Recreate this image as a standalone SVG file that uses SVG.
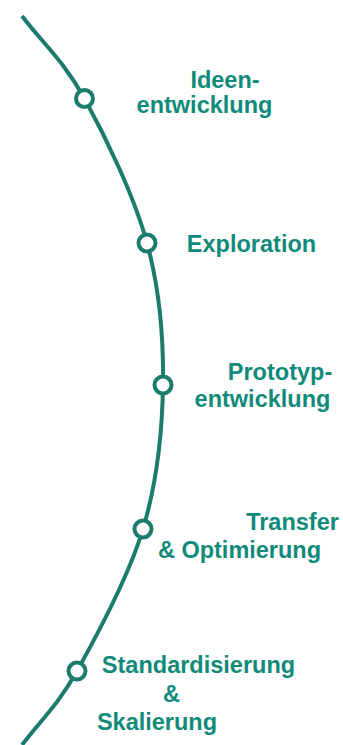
<svg xmlns="http://www.w3.org/2000/svg" width="343" height="745" viewBox="0 0 343 745">
  <style>
    .path { fill: none; stroke: #1b7b6d; stroke-width: 4; stroke-linecap: butt; }
    .stage { fill: #ffffff; stroke: #1b7b6d; stroke-width: 4; }
    .label { font-family: "Liberation Sans", Arial, sans-serif; font-weight: bold; font-size: 23.5px; fill: #108a79; text-anchor: middle; }
  </style>
  <rect width="343" height="745" fill="#ffffff"/>

  <!-- timeline arc -->
  <g id="connectors">
    <path class="path" d="M22,16 C42.8,43.5 63.7,60.7 84.5,98.5 C105.3,136.3 133.9,195.3 147,243 C160.1,290.8 163.7,337.3 163,385 C162.3,432.7 157.3,481.3 143,529 C128.7,576.7 97.2,635 77,671 C56.8,707 40.3,720.3 22,745"/>
  </g>

  <g id="stage-ideen">
    <circle class="stage" cx="84.5" cy="98.5" r="8.5"/>
    <text class="label" x="225" y="88">Ideen-</text>
    <text class="label" x="204.5" y="113">entwicklung</text>
  </g>

  <g id="stage-exploration">
    <circle class="stage" cx="147" cy="243" r="8.5"/>
    <text class="label" x="251.5" y="252">Exploration</text>
  </g>

  <g id="stage-prototyp">
    <circle class="stage" cx="163" cy="385" r="8.5"/>
    <text class="label" x="280" y="380">Prototyp-</text>
    <text class="label" x="262.5" y="407">entwicklung</text>
  </g>

  <g id="stage-transfer">
    <circle class="stage" cx="143" cy="529" r="8.5"/>
    <text class="label" x="292.5" y="530">Transfer</text>
    <text class="label" x="239.5" y="558">&amp; Optimierung</text>
  </g>

  <g id="stage-standard">
    <circle class="stage" cx="77" cy="671" r="8.5"/>
    <text class="label" x="198.5" y="673">Standardisierung</text>
    <text class="label" x="171.5" y="702">&amp;</text>
    <text class="label" x="157" y="730">Skalierung</text>
  </g>
</svg>
